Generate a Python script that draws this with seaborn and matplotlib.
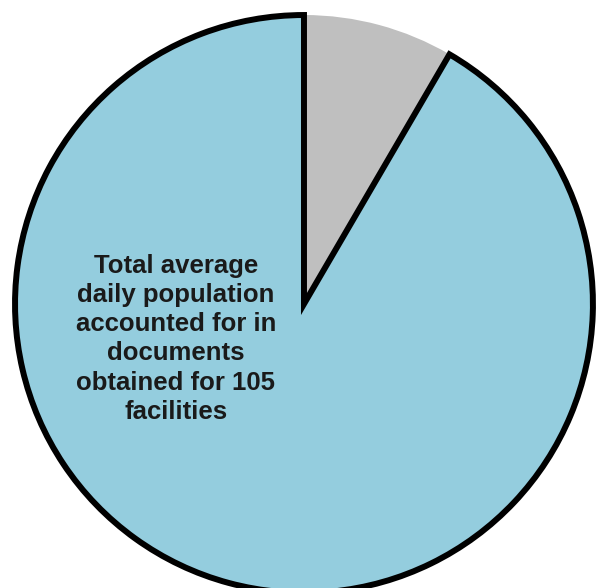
import matplotlib
matplotlib.use("Agg")
import matplotlib.pyplot as plt
import seaborn as sns

sns.set_theme(style="white")
plt.rcParams['font.family'] = ['Liberation Sans', 'DejaVu Sans']

categories = ["Not accounted for", "Accounted for in documents obtained for 105 facilities"]
values = [8.4, 91.6]
colors = ["#BFBFBF", "#94CDDE"]
label_text = "Total average\ndaily population\naccounted for in\ndocuments\nobtained for 105\nfacilities"

fig = plt.figure(figsize=(5.99, 5.88), dpi=100)
ax = fig.add_axes([0, 0, 1, 1])
wedges, _ = ax.pie(values, colors=colors, startangle=90, counterclock=False,
                   radius=1.0)
wedges[0].set_linewidth(0)
wedges[1].set_edgecolor("black")
wedges[1].set_linewidth(4.3)
wedges[1].set_joinstyle("miter")

ax.text(-0.443, -0.121, label_text, ha="center", va="center", fontsize=18.5,
        fontweight="bold", color="#1a1a1a", linespacing=1.27)

ax.set_aspect("auto")
ax.set_xlim(-1.052, 1.021)
ax.set_ylim(-0.983, 1.052)
ax.axis("off")
fig.savefig("out.png", dpi=100, facecolor="white")
